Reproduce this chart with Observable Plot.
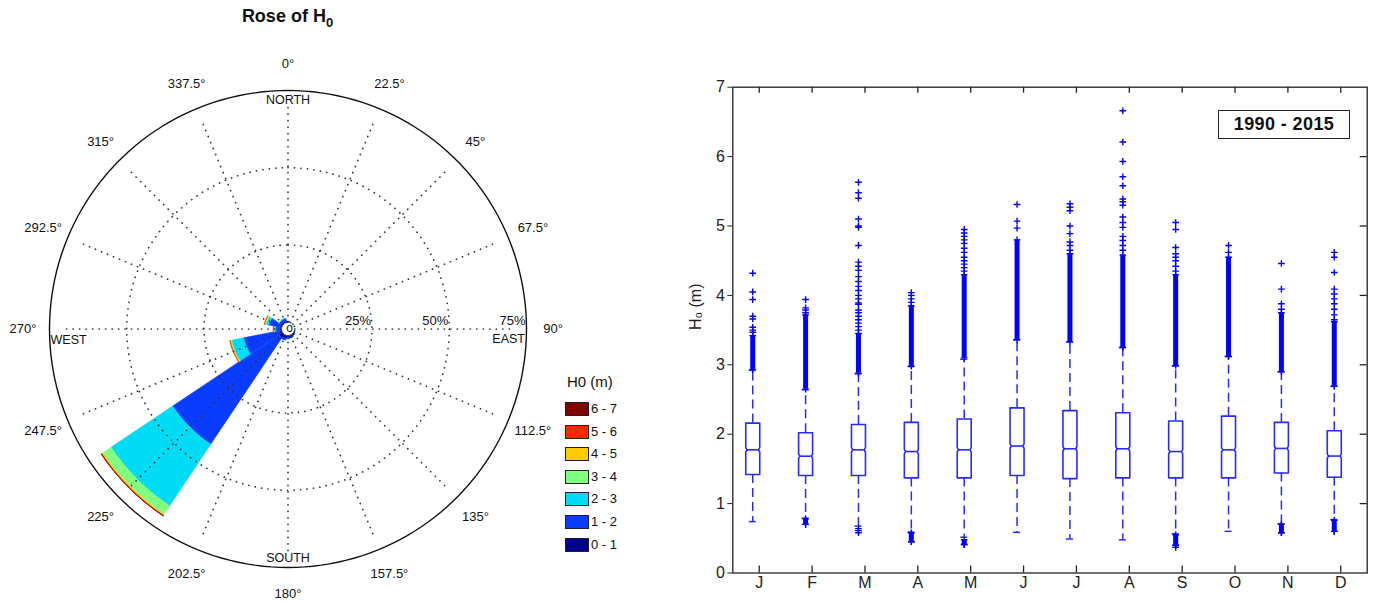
<!DOCTYPE html>
<html><head><meta charset="utf-8">
<script src="https://cdn.jsdelivr.net/npm/d3@7"></script>
<script src="https://cdn.jsdelivr.net/npm/@observablehq/plot@0.6"></script>
<style>
body{margin:0;background:#fff;font-family:"Liberation Sans",Arial,sans-serif;color:#111;}
#wrap{position:relative;width:1375px;height:603px;overflow:hidden;background:#fff;}
#rose{position:absolute;left:0;top:0;}
#box{position:absolute;left:640px;top:0;}
#title{position:absolute;left:0;width:575px;top:6px;text-align:center;font-weight:bold;font-size:18px;}
#title sub{font-size:13px;vertical-align:-5px;}
#legend{position:absolute;left:0;top:0;width:700px;height:603px;}
.lgt{position:absolute;left:567px;top:373px;font-size:15px;white-space:nowrap;}
.sw{position:absolute;left:565px;width:22px;height:12px;border:1px solid #222;}
.lt{position:absolute;left:591px;font-size:13px;white-space:nowrap;line-height:16px;}
#period{position:absolute;left:1218px;top:110px;width:132px;height:29px;border:1.4px solid #222;box-sizing:border-box;text-align:center;font-weight:bold;font-size:18px;line-height:27px;letter-spacing:0.4px;white-space:nowrap;}
</style></head>
<body><div id="wrap">
<div id="rose"></div><div id="box"></div>
<div id="title">Rose of H<sub>0</sub></div>
<div id="legend"></div>
<div id="period">1990 - 2015</div>
</div>
<script>
// ---------- Rose data ----------
const directions = [0,22.5,45,67.5,90,112.5,135,157.5,180,202.5,225,247.5,270,292.5,315,337.5];
const degLabels = ["0°","22.5°","45°","67.5°","90°","112.5°","135°","157.5°","180°","202.5°","225°","247.5°","270°","292.5°","315°","337.5°"];
const binLabels = ["0 - 1","1 - 2","2 - 3","3 - 4","4 - 5","5 - 6","6 - 7"];
const binColors = ["#00008f","#0a3cff","#00dcf5","#80ff80","#ffcc00","#ff2a00","#800000"];
// frequency (%) per direction for each H0 bin
const f01 = [0.2,0,0,0,0,0.1,0.4,0.6,0.6,0.8,1.2,0.6,0.3,0.3,0.4,0.4];
const f12 = [0.1,0,0,0,0,0,0.1,0.2,0.4,0.7,41.5,11.8,1.4,3.8,0.8,0.9];
const f23 = [0,0,0,0,0,0,0,0,0,0,24.0,4.0,0.6,0.9,0.2,0.1];
const f34 = [0,0,0,0,0,0,0,0,0,0,3.3,0.35,0.15,0.35,0.05,0];
const f45 = [0,0,0,0,0,0,0,0,0,0,0.35,0.15,0.1,0.2,0,0];
const f56 = [0,0,0,0,0,0,0,0,0,0,0.15,0.1,0.05,0.05,0,0];
const f67 = [0,0,0,0,0,0,0,0,0,0,0.05,0,0,0,0,0];
const freq = [f01,f12,f23,f34,f45,f56,f67];
const ringValues = [25,50,75];
const ringLabels = ["25%","50%","75%"];
const compass = ["NORTH","EAST","SOUTH","WEST"];

// ---------- Box plot data ----------
const monthLabels = ["J","F","M","A","M","J","J","A","S","O","N","D"];
const yTicks = [0,1,2,3,4,5,6,7];
const q1 = [1.42,1.405,1.405,1.37,1.37,1.405,1.36,1.37,1.37,1.37,1.44,1.38];
const median = [1.775,1.683,1.775,1.75,1.775,1.83,1.79,1.79,1.75,1.775,1.795,1.685];
const q3 = [2.16,2.02,2.14,2.17,2.22,2.38,2.34,2.31,2.19,2.26,2.17,2.05];
const whiskerLow = [0.74,0.79,0.675,0.59,0.515,0.585,0.49,0.478,0.565,0.60,0.71,0.77];
const whiskerHigh = [2.92,2.64,2.87,2.975,3.08,3.36,3.33,3.25,2.98,3.12,2.90,2.69];
const denseHigh = [[2.93,3.42],[2.65,3.72],[2.88,3.45],[2.98,3.85],[3.10,4.30],[3.36,4.80],[3.33,4.60],[3.25,4.58],[2.99,4.30],[3.12,4.55],[2.90,3.75],[2.69,3.62]];
const sparseHigh = [
 [3.47,3.50,3.54,3.66,3.70,3.94,4.05,4.32],
 [3.75,3.79,3.82,3.94],
 [3.50,3.55,3.60,3.65,3.70,3.75,3.79,3.87,3.89,3.95,4.00,4.07,4.13,4.20,4.27,4.36,4.42,4.48,4.72,4.98,5.00,5.10,5.40,5.48,5.63],
 [3.90,3.95,4.00,4.04],
 [4.35,4.40,4.45,4.50,4.55,4.62,4.68,4.75,4.80,4.85,4.90,4.95],
 [4.97,5.07,5.31],
 [4.65,4.72,4.77,4.89,5.00,5.22,5.27,5.32],
 [4.65,4.72,4.79,4.85,4.98,5.05,5.13,5.30,5.35,5.39,5.58,5.71,5.93,6.21,6.66],
 [4.35,4.42,4.50,4.55,4.60,4.69,4.95,5.05],
 [4.62,4.72],
 [3.80,3.88,4.09,4.46],
 [3.65,3.72,3.80,3.88,3.95,4.02,4.09,4.33,4.55,4.62]
];
const denseLow = [[1,0.70,0.78],[3,0.45,0.58],[4,0.41,0.48],[8,0.40,0.55],[10,0.58,0.70],[11,0.60,0.76]];
const sparseLow = [[],[0.70],[0.64,0.61,0.58],[0.45],[0.41],[],[],[],[0.37,0.40],[],[0.58],[0.60]];

// ================= ROSE =================
const off = 2.2;            // empty centre, in % units
const U = 75 + off;         // outer circle
const rad = d => d*Math.PI/180;
const px = (u,a) => u*Math.sin(rad(a));
const py = (u,a) => u*Math.cos(rad(a));

const wedgePts = [];
directions.forEach((d, di) => {
  let cum = off;
  binLabels.forEach((b, bi) => {
    const v = freq[bi][di];
    if (!(v > 0)) return;
    const r1 = cum, r2 = cum + v; cum = r2;
    const id = di*10 + bi, N = 24;
    for (let s=0;s<=N;s++){const a=d-11.25+22.5*s/N; wedgePts.push({x:px(r2,a),y:py(r2,a),id,bin:b});}
    for (let s=N;s>=0;s--){const a=d-11.25+22.5*s/N; wedgePts.push({x:px(r1,a),y:py(r1,a),id,bin:b});}
  });
});
const circlePts = [];
ringValues.forEach((rv,ri)=>{ for(let a=0;a<=360;a+=2) circlePts.push({x:px(rv+off,a),y:py(rv+off,a),ring:ri}); });

const Rlab = 85.8, Rrad = 73;
const rose = Plot.plot({
  width: 640, height: 603,
  marginLeft: 49, marginRight: 114, marginTop: 90, marginBottom: 36,
  x: {domain: [-U, U], axis: null},
  y: {domain: [-U, U], axis: null},
  color: {domain: binLabels, range: binColors},
  style: {fontFamily: "'Liberation Sans', Arial, sans-serif", color: "#111"},
  marks: [
    Plot.line(wedgePts, {x:"x", y:"y", z:"id", fill:"bin", stroke:"bin", strokeWidth:0.6}),
    Plot.link(directions, {x1:d=>px(off,d), y1:d=>py(off,d), x2:d=>px(Rrad,d), y2:d=>py(Rrad,d),
      stroke:"#333", strokeWidth:1.7, strokeDasharray:"0.1,6.4", strokeLinecap:"round"}),
    Plot.line(circlePts.filter(p=>p.ring<2), {x:"x", y:"y", z:"ring", stroke:"#333", strokeWidth:1.7, strokeDasharray:"0.1,6.4", strokeLinecap:"round"}),
    Plot.line(circlePts.filter(p=>p.ring===2), {x:"x", y:"y", stroke:"#111", strokeWidth:1.4}),
    Plot.text(directions, {x:d=>px(Rlab,d), y:d=>py(Rlab,d), text:(d,i)=>degLabels[i], fontSize:13}),
    Plot.text(ringValues, {x:d=>d+off, y:0, text:(d,i)=>ringLabels[i], textAnchor:"end", dx:-1, dy:-8, fontSize:13}),
    Plot.text([compass[0]], {x:0, y:U, dy:9, text:d=>d, fontSize:12.5}),
    Plot.text([compass[2]], {x:0, y:-U, dy:-9.5, text:d=>d, fontSize:12.5}),
    Plot.text([compass[1]], {x:U, y:0, dx:-1.5, dy:9.5, textAnchor:"end", text:d=>d, fontSize:12.5}),
    Plot.text([compass[3]], {x:-U, y:0, dx:1, dy:10.5, textAnchor:"start", text:d=>d, fontSize:12.5}),
    Plot.text(["o"], {x:0, y:0, dx:1.5, dy:-1, text:d=>d, fontSize:12})
  ]
});
document.getElementById("rose").appendChild(rose);

// legend
const lg = document.getElementById("legend");
let lhtml = '<div class="lgt">H0 (m)</div>';
binLabels.slice().reverse().forEach((b,i)=>{
  const top = 402 + i*22.6;
  const c = binColors[binLabels.length-1-i];
  lhtml += `<div class="sw" style="top:${top}px;background:${c}"></div><div class="lt" style="top:${top-1}px">${b}</div>`;
});
lg.innerHTML = lhtml;

// ================= BOX PLOT =================
const W = 735, H = 603, mL = 92.3, mR = 8.3, mT = 86.7, mB = 30.5;
const unitX = (W - mL - mR)/12, unitY = (H - mT - mB)/7;
const hw = 7/unitX, ind = 1.3/unitX, nh = 2.2/unitY, capw = 3.5/unitX;
const idx = d3.range(12);
const boxPts = [];
idx.forEach(i=>{
  const L=i-hw, R=i+hw, m=median[i];
  [[L,q1[i]],[L,m-nh],[L+ind,m],[L,m+nh],[L,q3[i]],[R,q3[i]],[R,m+nh],[R-ind,m],[R,m-nh],[R,q1[i]],[L,q1[i]]]
    .forEach(([x,y])=>boxPts.push({x,y,i}));
});
const outHigh = idx.flatMap(i=>[...sparseHigh[i], ...denseHigh[i]].map(v=>({i,v})));
const outLow = [...idx.flatMap(i=>sparseLow[i].map(v=>({i,v}))), ...denseLow.flatMap(([i,a,b])=>[{i,v:a},{i,v:b}])];
const denseAll = [...denseHigh.map(([a,b],i)=>({i,a,b})), ...denseLow.map(([i,a,b])=>({i,a,b}))];
const dxb = -6.5, boxCol = "#2a2aff", outCol = "#0000ff";

const box = Plot.plot({
  width: W, height: H, marginLeft: mL, marginRight: mR, marginTop: mT, marginBottom: mB,
  x: {domain: [-0.5, 11.5], axis: null},
  y: {domain: [0, 7], axis: null},
  style: {fontFamily: "'Liberation Sans', Arial, sans-serif", color: "#222"},
  marks: [
    Plot.ruleX(idx, {x:d=>d, y1:d=>q3[d], y2:d=>whiskerHigh[d], dx:dxb, stroke:boxCol, strokeWidth:1.5, strokeDasharray:"9,5"}),
    Plot.ruleX(idx, {x:d=>d, y1:d=>q1[d], y2:d=>whiskerLow[d], dx:dxb, stroke:boxCol, strokeWidth:1.5, strokeDasharray:"9,5"}),
    Plot.ruleY(idx, {y:d=>whiskerLow[d], x1:d=>d-capw, x2:d=>d+capw, dx:dxb, stroke:boxCol, strokeWidth:1.5}),
    Plot.ruleY(idx, {y:d=>whiskerHigh[d], x1:d=>d-capw, x2:d=>d+capw, dx:dxb, stroke:boxCol, strokeWidth:1.5}),
    Plot.line(boxPts, {x:"x", y:"y", z:"i", dx:dxb, stroke:boxCol, strokeWidth:1.6}),
    Plot.ruleY(idx, {y:d=>median[d], x1:d=>d-hw+ind, x2:d=>d+hw-ind, dx:dxb, stroke:boxCol, strokeWidth:1.6}),
    Plot.ruleX(denseAll, {x:"i", y1:"a", y2:"b", dx:dxb, stroke:outCol, strokeWidth:5}),
    Plot.dot([...outHigh, ...outLow], {x:"i", y:"v", dx:dxb, symbol:"plus", r:2.3, stroke:outCol, strokeWidth:1.4}),
    Plot.frame({stroke:"#222", strokeWidth:1.3}),
    Plot.ruleX(idx, {x:d=>d, y1:0, y2:7/unitY, stroke:"#222", strokeWidth:1.3}),
    Plot.ruleX(idx, {x:d=>d, y1:7-6/unitY, y2:7, stroke:"#222", strokeWidth:1.3}),
    Plot.ruleY(yTicks.slice(1,7), {y:d=>d, x1:11.5-7/unitX, x2:11.5, stroke:"#222", strokeWidth:1.3}),
    Plot.axisY(yTicks, {tickSize:5, tickPadding:3, fontSize:16, stroke:"#222", tickFormat:d=>String(d)}),
    Plot.axisX(idx, {tickSize:0, tickPadding:4, fontSize:16, tickFormat:d=>monthLabels[d]}),
    Plot.text(["H₀ (m)"], {frameAnchor:"left", rotate:-90, dx:-37, fontSize:16, text:d=>d})
  ]
});
document.getElementById("box").appendChild(box);
</script>
</body></html>
